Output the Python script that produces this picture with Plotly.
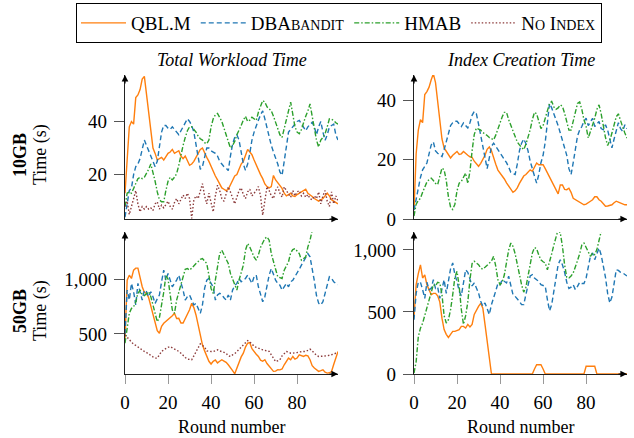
import plotly.graph_objects as go

# ---------------- data ----------------
rounds = list(range(100))

# 10GB – Total Workload Time (s)
tl_qbl = [13, 25, 38, 40, 39, 49, 50, 52, 56, 57, 50, 43, 35, 30, 28, 25.5, 26, 26.5, 25.5, 27,
          28, 28.5, 29.5, 28, 28.5, 29, 27, 26, 27, 25, 23.5, 24, 25, 26.5, 28, 29.5, 30, 28, 26.5, 25,
          23, 21, 19.5, 18, 16.5, 15, 14.5, 14, 14.5, 16, 18, 19.5, 20, 22, 24, 25, 27, 29.5, 28.5, 27.5,
          25.5, 23.5, 21.5, 20, 18.5, 16.5, 15.5, 15, 15.5, 19.7, 18, 17, 16, 14.8, 13, 12, 12.5, 13, 12, 11.8,
          12.5, 13, 13.5, 14, 14.5, 13, 12.5, 11.8, 11, 10.5, 10, 10.5, 11, 12, 13, 12, 10.5, 10, 9.5, 9]
tl_dba = [4, 10, 14, 15, 20, 23, 24, 26, 29, 33, 31, 29, 27, 25, 23, 25, 31, 36, 38.5, 38.5,
          37.5, 37, 38, 37, 36, 35, 36.5, 38, 40, 41, 40, 38.5, 36, 31, 27, 22, 23, 26, 30, 30,
          29, 28.5, 28, 27, 25, 24, 23, 22.5, 21.5, 27, 31.5, 34, 35, 33, 29, 24, 21.6, 24, 28, 33,
          36, 38.5, 40.5, 42.5, 44, 41, 37.5, 34, 31, 28.5, 26.5, 24, 21, 19.7, 25, 31, 36, 37, 38, 39,
          40, 40.4, 39, 37.5, 36.5, 38, 39, 39.7, 38, 35, 38, 40, 36, 32.9, 35, 37.9, 38.5, 39, 35, 33]
tl_hmab = [8, 13, 13.5, 13, 14.8, 17, 18.5, 19, 18.5, 19, 20.4, 22, 24, 21, 17.5, 13.5, 10.5, 9.8, 9.8, 14,
           17.5, 19, 18, 19, 20.4, 23.5, 28, 31, 34, 36.5, 38, 38, 37, 36, 34.5, 33.5, 33, 32, 31.6, 33,
           38, 41, 42.5, 43, 41.5, 40, 37.5, 35, 33, 30, 31, 32.5, 35, 36.5, 38.5, 40.5, 42, 40, 40.5, 41.6,
           41, 40.4, 43.5, 46, 47.9, 47.3, 45.5, 44.8, 44, 42, 39.5, 36.6, 35, 34, 37, 41, 44, 47.3, 42, 38,
           36, 35.4, 37, 40, 42, 44, 46.6, 42, 37, 33, 30.4, 33, 34, 35.4, 38, 41, 40.8, 40.4, 39.5, 39]
tl_noidx = [8, 10, 5, 8, 11.6, 14, 9, 6, 8, 7, 8, 7, 7.5, 6.5, 9, 9.8, 7, 8.5, 7.5, 9,
            10, 8, 7, 9.5, 11, 9, 10.5, 12.3, 11, 13, 11, 3.5, 10.5, 12, 11, 14, 16.6, 12, 9, 13,
            10, 6, 12, 16, 14, 11, 10, 13, 15.4, 13.5, 11, 9, 11.5, 14, 15, 12.5, 11, 13.5, 14.5, 12,
            13, 14, 15.5, 12, 4.75, 10, 15.5, 14, 12, 11, 14, 15.4, 13, 11.5, 15.4, 14, 12.5, 11.5, 14, 12,
            13.5, 14, 12, 13, 11.5, 12.5, 11, 10.5, 12, 11, 13.5, 9, 12, 14, 10, 8, 13.5, 9, 12, 10]

# 10GB – Index Creation Time (s)
tr_qbl = [3, 22, 30, 33.5, 32.5, 42, 43, 44.5, 47, 49, 46, 40, 32, 27, 24, 22.8, 21.5, 20.6, 21.5, 22,
          22.8, 21.8, 22, 22.8, 22, 21.5, 21, 20.8, 19.5, 18.5, 17.8, 18.8, 20.2, 21.5, 23.5, 24.3, 23, 20.5, 18.5, 16.5,
          15.5, 14.8, 13.5, 12.2, 11, 10, 9, 9.5, 10.5, 12, 13.5, 14.5, 15, 16, 16.6, 16.1, 17.5, 18.9, 18.3, 18.3,
          18.3, 17, 15.5, 14, 12.5, 11, 9.5, 8.5, 11.5, 11.5, 10, 9.9, 10.4, 9, 7, 6.5, 6.3, 5.8, 5.2, 4.8,
          5, 5.4, 6, 6.5, 7.5, 7.5, 6.5, 6, 5, 4.3, 4.4, 4.6, 4.8, 5.5, 6, 5.7, 5.4, 5.2, 4.8, 4.8]
tr_dba = [3, 7, 11, 14, 16.6, 17.8, 18.9, 22, 25, 26, 23, 22.2, 21.5, 21.1, 23.4, 26, 29, 31.5, 32.5, 33,
          33, 32, 31.2, 32.4, 31.5, 30.7, 32.5, 35, 36.3, 35.5, 32, 28, 24, 21, 17, 20.6, 24.5, 25.6, 24.5, 23.4,
          22.5, 21.5, 20, 19, 17.5, 15.8, 15.3, 15, 18.5, 23, 25.6, 27, 25.5, 23, 19.5, 16.5, 14.5, 12.1, 15, 19,
          21.5, 26, 33, 39, 37.5, 35.5, 34, 31.5, 29, 26.7, 24, 21.5, 17, 15, 19, 24, 28, 30, 31.2, 33,
          34, 31.5, 33, 34, 31.2, 32, 32.9, 30.5, 30.1, 31.8, 30, 27, 24, 27, 30.1, 32.5, 30.5, 29.6, 31.8, 30.5]
tr_hmab = [1, 5, 6.2, 7, 9, 11, 12.5, 13.3, 13.8, 13, 12, 11.6, 14.5, 17.2, 16.6, 13, 7.5, 4, 3.2, 5,
           9.5, 12.1, 12.7, 14, 15.5, 12, 16, 23, 28.5, 30.7, 30.4, 30, 29.2, 28.8, 28.2, 27.5, 27, 26.7, 28.3, 30.5,
           32.4, 34.5, 36, 36, 33.5, 31.5, 29.5, 27.5, 26, 25, 24, 23.4, 25.2, 27.5, 30.1, 33.5, 36, 35.5, 33, 30.5,
           31.5, 34, 37, 39, 39.7, 37.8, 37, 37.5, 38.5, 38, 35.7, 32.5, 30, 30, 33, 36, 39, 39.5, 37, 33.5,
           31.2, 27.3, 29.5, 32, 34, 37, 38.5, 35.5, 31, 27.5, 24.8, 26.5, 29, 32, 34.5, 35.5, 33, 31, 29, 27.3]

# 50GB – Total Workload Time (s)
bl_qbl = [450, 990, 1036, 1006, 1082, 1100, 1100, 1021, 930, 880, 870, 830, 760, 680, 600, 530, 506, 570, 597, 612,
          627, 645, 665, 688, 640, 642, 600, 600, 640, 670, 720, 779, 740, 673, 580, 520, 400, 345, 290, 250,
          225, 250, 262, 235, 250, 264, 252, 240, 218, 195, 165, 136, 190, 240, 290, 324, 380, 415, 420, 365,
          335, 315, 294, 260, 250, 264, 230, 205, 173, 158, 160, 173, 172, 180, 218, 255, 279, 264, 294, 270,
          280, 309, 300, 294, 305, 300, 264, 210, 188, 170, 158, 165, 173, 150, 142, 145, 157, 220, 290, 339]
bl_dba = [500, 900, 809, 961, 885, 764, 961, 870, 809, 900, 885, 839, 885, 839, 779, 820, 855, 976, 1082, 991,
          1052, 991, 930, 960, 991, 1036, 976, 900, 809, 840, 855, 809, 764, 779, 733, 688, 764, 915, 991, 1006,
          960, 930, 809, 855, 870, 860, 830, 809, 855, 809, 900, 940, 961, 1006, 976, 990, 1006, 1036, 991, 961,
          1021, 1036, 930, 850, 794, 839, 945, 1036, 1097, 1036, 991, 960, 945, 900, 930, 961, 930, 976, 990, 1021,
          1050, 1090, 1127, 1160, 1188, 1233, 1203, 1110, 985, 850, 780, 764, 794, 870, 960, 1021, 1006, 976, 961, 950]
bl_hmab = [415, 536, 688, 733, 748, 790, 870, 900, 860, 850, 870, 885, 840, 770, 680, 612, 650, 760, 880, 1030,
           1000, 860, 718, 688, 809, 880, 950, 1040, 1090, 1097, 1082, 1100, 1125, 1142, 1160, 1180, 1188, 1165, 1142, 1036,
           915, 870, 1006, 1112, 1233, 1264, 1218, 1180, 1142, 1052, 1000, 945, 900, 991, 1060, 1127, 1264, 1324, 1294, 1240,
           1200, 1173, 1220, 1290, 1339, 1370, 1385, 1355, 1233, 1150, 1090, 1021, 1010, 1006, 1082, 1120, 1158, 1240, 1270, 1279,
           1250, 1233, 1173, 1190, 1203, 1294, 1355, 1445, 1500]
bl_noidx = [491, 470, 445, 425, 405, 395, 380, 370, 355, 340, 330, 315, 300, 290, 279, 279, 310, 339, 355, 370,
            378, 385, 375, 365, 355, 340, 324, 300, 285, 270, 264, 264, 300, 340, 370, 409, 395, 380, 345, 339,
            339, 339, 350, 355, 345, 339, 332, 324, 300, 294, 309, 320, 339, 360, 385, 405, 420, 439, 425, 410,
            385, 375, 370, 362, 355, 350, 348, 340, 309, 280, 248, 255, 264, 300, 320, 339, 335, 324, 324, 324,
            330, 335, 339, 339, 339, 350, 361, 345, 324, 305, 294, 294, 294, 294, 300, 305, 309, 315, 324, 324]

# 50GB – Index Creation Time (s)
br_qbl = [465, 720, 810, 880, 774, 800, 720, 680, 640, 650, 650, 630, 580, 450, 358, 320, 295, 320, 344, 344,
          350, 358, 384, 384, 371, 400, 380, 400, 480, 519, 545, 570, 530, 400, 250, 100, 0, 0, 0, 0,
          0, 0, 0, 0, 0, 0, 0, 0, 0, 0, 0, 0, 0, 0, 0, 0, 40, 75, 75, 75,
          40, 0, 0, 0, 0, 0, 0, 0, 0, 0, 0, 0, 0, 0, 0, 0, 0, 0, 0, 0,
          62, 62, 62, 62, 62, 0, 0, 0, 0, 0, 0, 0, 0, 0, 0, 0, 0, 0, 0, 0]
br_dba = [438, 650, 740, 740, 680, 610, 740, 680, 690, 760, 690, 700, 610, 680, 760, 650, 750, 850, 895, 801,
          747, 667, 630, 720, 840, 820, 761, 710, 734, 694, 653, 586, 546, 573, 520, 480, 559, 626, 670, 730,
          720, 760, 750, 734, 788, 707, 640, 626, 610, 586, 559, 559, 640, 730, 790, 801, 774, 760, 747, 720,
          715, 707, 600, 510, 560, 680, 774, 882, 922, 880, 820, 740, 690, 700, 720, 680, 707, 740, 730, 730,
          774, 860, 949, 976, 922, 970, 1016, 960, 880, 780, 650, 573, 620, 730, 840, 835, 820, 815, 801, 790]
br_hmab = [8, 100, 300, 370, 410, 470, 530, 600, 670, 720, 710, 740, 734, 640, 470, 411, 438, 519, 640, 780,
           828, 707, 520, 400, 470, 580, 760, 890, 909, 895, 882, 855, 845, 860, 875, 890, 910, 949, 870, 760,
           720, 740, 800, 900, 1000, 1056, 1030, 970, 880, 780, 720, 660, 700, 790, 895, 975, 1020, 1010, 960, 920,
           905, 895, 841, 900, 970, 1040, 1097, 1164, 1137, 1030, 880, 780, 774, 790, 815, 860, 915, 970, 1040, 1056,
           1016, 989, 949, 976, 962, 1003, 1083, 1150]

series_names = ["QBL.M",
                "DBA<span style='font-size:14px'>BANDIT</span>",
                "HMAB",
                "N<span style='font-size:14px'>O</span> I<span style='font-size:14px'>NDEX</span>"]
series_colors = ["#ff7f0e", "#1f77b4", "#2ca02c", "#8c3b3b"]
series_dash = ["solid", "5px,3px", "5px,2px,1.5px,2px", "1.5px,2px"]

panel_titles = ["Total Workload Time", "Index Creation Time"]
row_labels = ["10GB", "50GB"]
x_ticks = [0, 20, 40, 60, 80]

# ---------------- layout geometry ----------------
W, H = 634, 438
FONT = "'Liberation Serif', 'Times New Roman', Times, serif"
FS = 18


def xdom(a, b):
    return [a / W, b / W]


def ydom(top, bottom):
    return [1 - bottom / H, 1 - top / H]


panels = [
    ("", (125, 338), (75, 219), [3.3, 57.5], [20, 40], ["20", "40"],
     [tl_qbl, tl_dba, tl_hmab, tl_noidx], False),
    ("2", (414, 627), (75, 219), [0, 48.6], [0, 20, 40], ["0", "20", "40"],
     [tr_qbl, tr_dba, tr_hmab, None], False),
    ("3", (125, 338), (232, 374), [134, 1430], [500, 1000], ["500", "1,000"],
     [bl_qbl, bl_dba, bl_hmab, bl_noidx], True),
    ("4", (414, 627), (232, 374), [0, 1145], [0, 500, 1000], ["0", "500", "1,000"],
     [br_qbl, br_dba, br_hmab, None], True),
]

fig = go.Figure()
annotations = []
layout = {}

for pi, (suf, xd, yd, yr, tv, tt, data, bottom) in enumerate(panels):
    xa = "x" + suf
    ya = "y" + suf
    for si, vals in enumerate(data):
        if vals is None:
            continue
        fig.add_trace(go.Scatter(
            x=rounds[:len(vals)], y=vals, mode="lines",
            name=series_names[si], legendgroup=str(si), showlegend=(pi == 0),
            line=dict(color=series_colors[si], width=1.4, dash=series_dash[si]),
            xaxis=xa, yaxis=ya, hoverinfo="skip"))
    layout["xaxis" + suf] = dict(
        domain=xdom(*xd), range=[0, 99], anchor=ya, showgrid=False, zeroline=False,
        automargin=False,
        showline=True, linecolor="#222", linewidth=1.2,
        ticks="outside" if bottom else "", ticklen=9, tickcolor="#999", tickwidth=1,
        tickvals=x_ticks, showticklabels=bottom, ticklabelstandoff=2,
        tickfont=dict(family=FONT, size=FS + 1, color="black"))
    layout["yaxis" + suf] = dict(
        domain=ydom(*yd), range=yr, anchor=xa, showgrid=False, zeroline=False,
        automargin=False,
        showline=True, linecolor="#222", linewidth=1.2,
        ticks="outside", ticklen=10, tickcolor="#555", tickwidth=1,
        tickvals=tv, ticktext=tt, ticklabelstandoff=3,
        tickfont=dict(family=FONT, size=FS + 1, color="black"))
    # axis arrows
    annotations.append(dict(xref=xa + " domain", yref=ya + " domain", x=1, y=0,
                            ax=-10, ay=0, axref="pixel", ayref="pixel", text="",
                            showarrow=True, arrowhead=2, arrowsize=1.1, arrowwidth=1.2,
                            arrowcolor="black"))
    annotations.append(dict(xref=xa + " domain", yref=ya + " domain", x=0, y=1,
                            ax=0, ay=10, axref="pixel", ayref="pixel", text="",
                            showarrow=True, arrowhead=2, arrowsize=1.1, arrowwidth=1.2,
                            arrowcolor="black"))
    cx = (xd[0] + xd[1]) / 2 / W
    if not bottom:
        annotations.append(dict(xref="paper", yref="paper", x=cx, y=1 - 60 / H,
                                text="<i>" + panel_titles[pi] + "</i>", showarrow=False,
                                xanchor="center", yanchor="middle",
                                font=dict(family=FONT, size=FS, color="black")))
    else:
        annotations.append(dict(xref="paper", yref="paper", x=cx, y=1 - 427 / H,
                                text="Round number", showarrow=False,
                                xanchor="center", yanchor="middle",
                                font=dict(family=FONT, size=FS, color="black")))
    if pi % 2 == 0:
        cy = 1 - ((yd[0] + yd[1]) / 2 + 8) / H
        annotations.append(dict(xref="paper", yref="paper", x=20 / W, y=cy,
                                text="<b>" + row_labels[pi // 2] + "</b>", textangle=-90,
                                showarrow=False, xanchor="center", yanchor="middle",
                                font=dict(family=FONT, size=FS, color="black")))
        annotations.append(dict(xref="paper", yref="paper", x=40 / W, y=cy,
                                text="Time (s)", textangle=-90,
                                showarrow=False, xanchor="center", yanchor="middle",
                                font=dict(family=FONT, size=FS, color="black")))

fig.update_layout(
    width=W, height=H, margin=dict(l=0, r=0, t=0, b=0, autoexpand=False),
    paper_bgcolor="white", plot_bgcolor="white",
    font=dict(family=FONT, size=FS, color="black"),
    legend=dict(orientation="h", x=339 / W, xanchor="center", y=1 - 3 / H, yanchor="top",
                bordercolor="black", borderwidth=1, bgcolor="white",
                font=dict(family=FONT, size=19, color="black"), itemwidth=45),
    annotations=annotations,
    **layout)

fig.write_html("out.html")
